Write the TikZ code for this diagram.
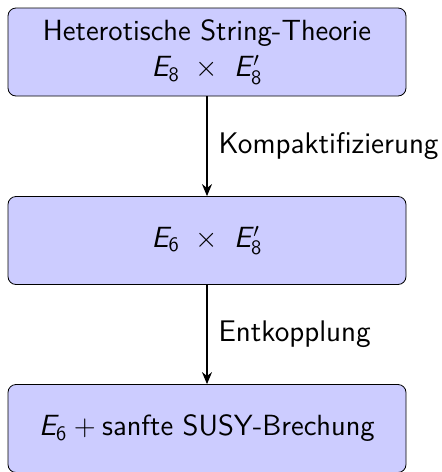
\documentclass[tikz,border=0pt]{standalone}
\usetikzlibrary{arrows.meta}
% slanted sans letters and upright sans digits for the group names
\DeclareMathAlphabet{\mathsfsl}{TU}{lmss}{m}{sl}
\DeclareMathAlphabet{\mathsfup}{TU}{lmss}{m}{n}
\newcommand\grpE[1]{\mathsfsl{E}_{\mathsfup{#1}}}
\newcommand\grpEp[1]{\mathsfsl{E}^{\mkern2mu\prime}_{\mathsfup{#1}}}
\begin{document}
\begin{tikzpicture}[
  font=\sffamily\fontsize{14.6}{18.3}\selectfont,
  stage/.style={draw=black, fill=blue!20, rounded corners=4pt,
    minimum width=199pt, minimum height=44pt, align=center,
    inner sep=0pt},
  flow/.style={-{Stealth[length=6pt,width=5pt]}, line width=0.6pt},
  steplabel/.style={right, inner sep=5.5pt,
    font=\sffamily\fontsize{14.9}{18.3}\selectfont}
]
\useasboundingbox (0pt,0pt) rectangle (220.5pt,-236pt);
\node[stage] (het) at (103.5pt,-26pt)
  {Heterotische String-Theorie\\$\grpE{8}\ \times\ \grpEp{8}$};
\node[stage] (e6e8) at (103.5pt,-120.25pt) {$\grpE{6}\ \times\ \grpEp{8}$};
\node[stage] (soft) at (103.5pt,-214.25pt) {$\grpE{6} + \mbox{sanfte SUSY-Brechung}$};
\draw[flow] (het) -- node[steplabel] {Kompaktifizierung} (e6e8);
\draw[flow] (e6e8) -- node[steplabel] {Entkopplung} (soft);
\end{tikzpicture}
\end{document}
